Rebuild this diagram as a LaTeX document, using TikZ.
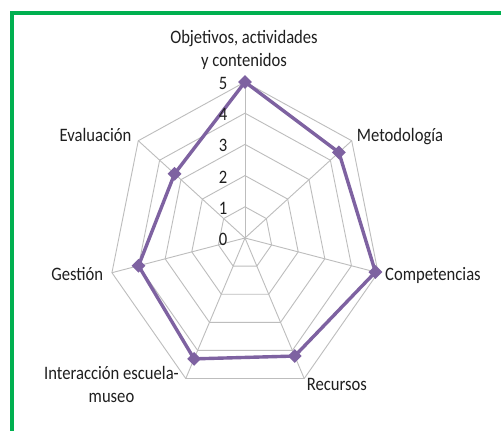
\documentclass[tikz,border=0pt]{standalone}
\usepackage{fontspec}
\setmainfont{Carlito}[FakeStretch=0.875]
\usetikzlibrary{shapes.geometric}
\definecolor{gridgray}{HTML}{BDBDBD}
\definecolor{series}{HTML}{7E62A1}
\definecolor{framegreen}{HTML}{00B050}
\definecolor{labeltext}{HTML}{1F1F1F}
\begin{document}
\begin{tikzpicture}[x=1pt,y=1pt,
  gridline/.style={draw=gridgray, line width=0.9pt},
  seriesline/.style={draw=series, line width=3.4pt, line join=round},
  marker/.style={diamond, fill=series, draw=none, inner sep=0pt, minimum size=14pt},
  catlabel/.style={font=\fontsize{19}{22.7}\selectfont, text=labeltext, inner sep=0pt},
  ticklabel/.style={font=\fontsize{19}{22.7}\selectfont, text=labeltext, inner sep=0pt}]
\useasboundingbox (0,0) rectangle (501,431);
\fill[white] (0,0) rectangle (501,431);
\draw[framegreen, line width=4pt] (12,0) -- (12,418) -- (501,418);
\begin{scope}[shift={(245,193)}, xscale=0.875]
  \foreach \l in {1,...,5}{
    \pgfmathsetmacro\r{31.2*\l}
    \draw[gridline] (90:\r) -- (38.571:\r) -- (-12.857:\r) -- (-64.286:\r)
      -- (-115.714:\r) -- (-167.143:\r) -- (141.429:\r) -- cycle;
  }
  \coordinate (c) at (0,0);
  \foreach \a [count=\i] in {90,38.571,-12.857,-64.286,-115.714,-167.143,141.429}{
    \coordinate (s\i) at (\a:156);
    \draw[gridline] (c) -- (s\i);
  }
  \coordinate (d1) at (90:{5*31.2});
  \coordinate (d2) at (38.571:{4.4*31.2});
  \coordinate (d3) at (-12.857:{4.9*31.2});
  \coordinate (d4) at (-64.286:{4.2*31.2});
  \coordinate (d5) at (-115.714:{4.3*31.2});
  \coordinate (d6) at (-167.143:{4.0*31.2});
  \coordinate (d7) at (141.429:{3.3*31.2});
\end{scope}
\draw[seriesline] (d1) -- (d2) -- (d3) -- (d4) -- (d5) -- (d6) -- (d7) -- cycle;
\foreach \i in {1,...,7}{\node[marker] (m\i) at (d\i) {};}
\foreach \l in {0,...,5}{
  \node[ticklabel] (t\l) at (223,{191.7+31.2*\l}) {\l};
}
\node[catlabel, align=center, anchor=base] (lab1) at (244,364.3) {Objetivos, actividades\\y contenidos};
\node[catlabel, anchor=base west] (lab2) at (356.7,289) {Metodología};
\node[catlabel, anchor=base west] (lab3) at (385,150) {Competencias};
\node[catlabel, anchor=base west] (lab4) at (306.7,40) {Recursos};
\node[catlabel, align=center, anchor=base] (lab5) at (111.5,28.3) {Interacción escuela-\\museo};
\node[catlabel, anchor=base east] (lab6) at (103.3,150) {Gestión};
\node[catlabel, anchor=base east] (lab7) at (131.7,289) {Evaluación};
\end{tikzpicture}
\end{document}
